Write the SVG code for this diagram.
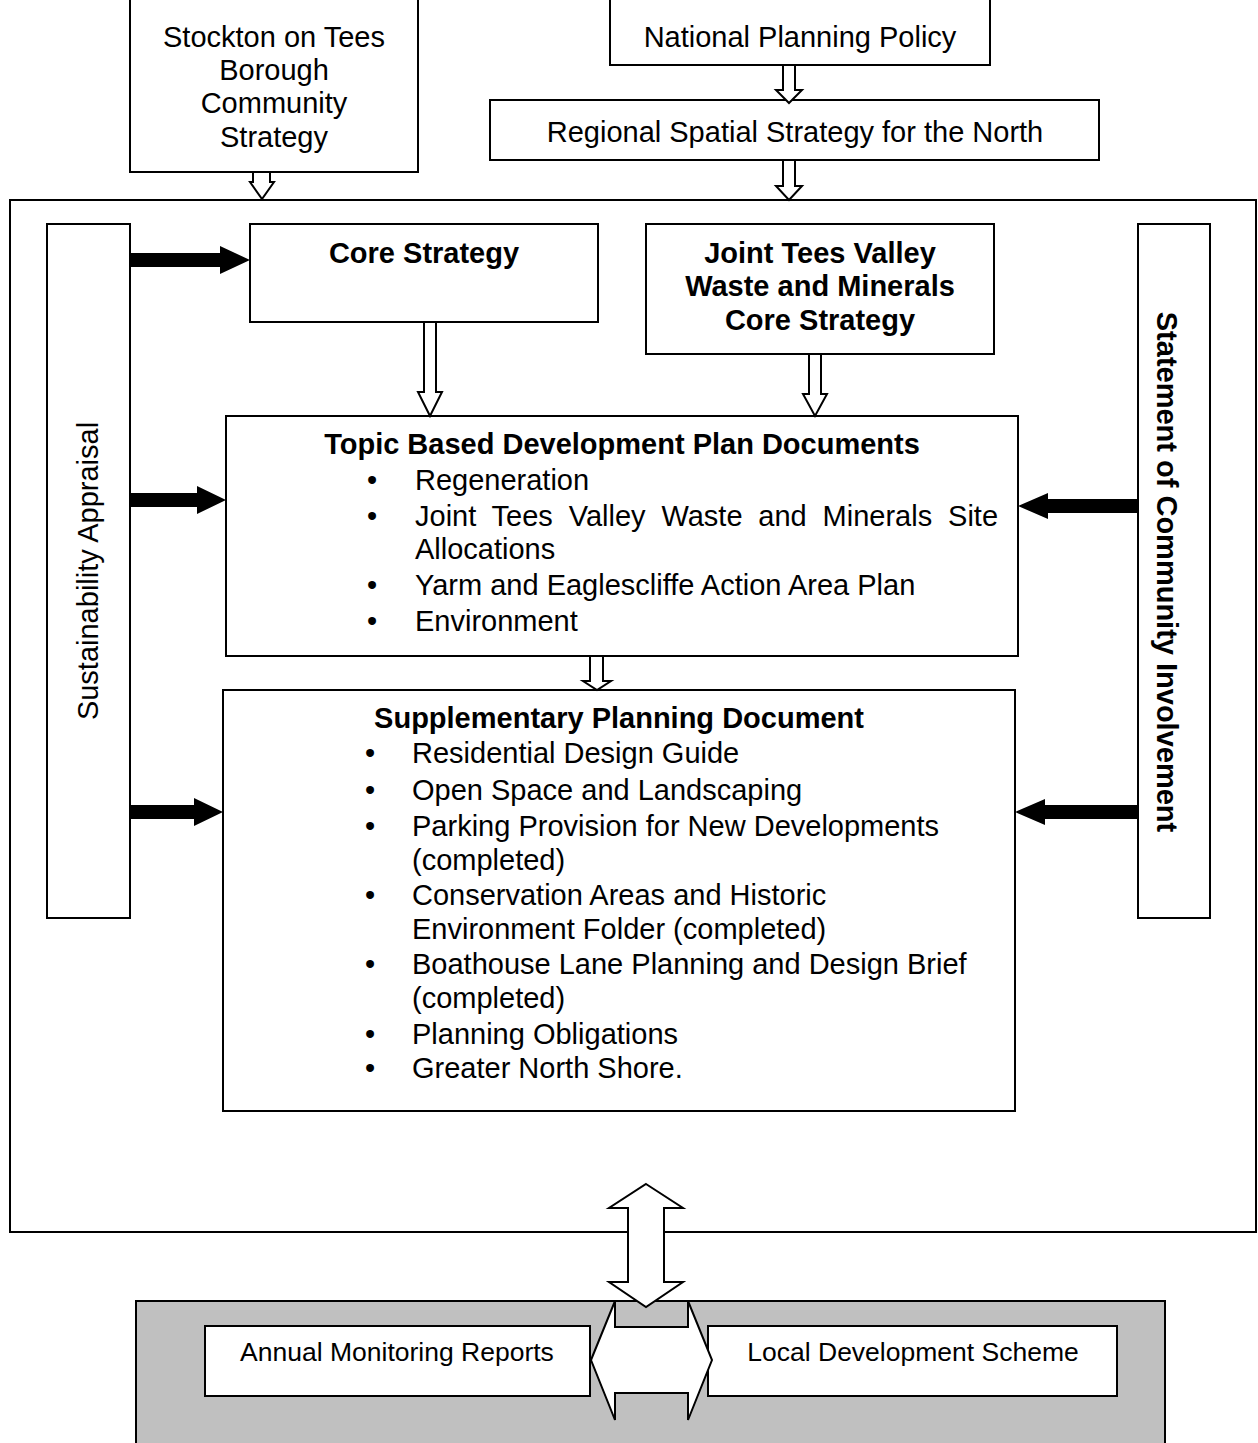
<svg xmlns="http://www.w3.org/2000/svg" width="1258" height="1443" viewBox="0 0 1258 1443">
<style>
.box{fill:#fff;stroke:#000;stroke-width:2}
.t{font-family:"Liberation Sans",Arial,sans-serif;font-size:29px;fill:#000}
.b{font-weight:bold}
.m{text-anchor:middle}
.s{font-size:26.5px}
.ha{fill:#fff;stroke:#000;stroke-width:2;stroke-linejoin:miter}
.ba{fill:#000;stroke:none}
</style>
<rect width="1258" height="1443" fill="#fff"/>
<g id="outer"><rect class="box" x="10" y="200" width="1246" height="1032"/></g>
<g id="stockton"><rect class="box" x="130" y="-2" width="288" height="174"/>
<text class="t m" x="274" y="47">Stockton on Tees</text>
<text class="t m" x="274" y="80">Borough</text>
<text class="t m" x="274" y="113">Community</text>
<text class="t m" x="274" y="147">Strategy</text></g>
<g id="national"><rect class="box" x="610" y="-2" width="380" height="67"/>
<text class="t m" x="800" y="47">National Planning Policy</text></g>
<g id="regional"><rect class="box" x="490" y="100" width="609" height="60"/>
<text class="t m" x="795" y="142">Regional Spatial Strategy for the North</text></g>
<g id="sustainability"><rect class="box" x="47" y="224" width="83" height="694"/>
<text class="t m" transform="translate(98,571) rotate(-90)">Sustainability Appraisal</text></g>
<g id="sci"><rect class="box" x="1138" y="224" width="72" height="694"/>
<text class="t b m" transform="translate(1157,572) rotate(90)">Statement of Community Involvement</text></g>
<g id="core"><rect class="box" x="250" y="224" width="348" height="98"/>
<text class="t b m" x="424" y="263">Core Strategy</text></g>
<g id="joint"><rect class="box" x="646" y="224" width="348" height="130"/>
<text class="t b m" x="820" y="263">Joint Tees Valley</text>
<text class="t b m" x="820" y="296">Waste and Minerals</text>
<text class="t b m" x="820" y="330">Core Strategy</text></g>
<g id="topic"><rect class="box" x="226" y="416" width="792" height="240"/>
<text class="t b m" x="622" y="454">Topic Based Development Plan Documents</text>
<text class="t m" x="372" y="490">•</text><text class="t" x="415" y="490">Regeneration</text>
<text class="t m" x="372" y="526">•</text><text class="t" x="415" y="526" word-spacing="7.8">Joint Tees Valley Waste and Minerals Site</text>
<text class="t" x="415" y="559">Allocations</text>
<text class="t m" x="372" y="595">•</text><text class="t" x="415" y="595">Yarm and Eaglescliffe Action Area Plan</text>
<text class="t m" x="372" y="631">•</text><text class="t" x="415" y="631">Environment</text></g>
<g id="spd"><rect class="box" x="223" y="690" width="792" height="421"/>
<text class="t b m" x="619" y="728">Supplementary Planning Document</text>
<text class="t m" x="370" y="763">•</text><text class="t" x="412" y="763">Residential Design Guide</text>
<text class="t m" x="370" y="800">•</text><text class="t" x="412" y="800">Open Space and Landscaping</text>
<text class="t m" x="370" y="836">•</text><text class="t" x="412" y="836">Parking Provision for New Developments</text>
<text class="t" x="412" y="870">(completed)</text>
<text class="t m" x="370" y="905">•</text><text class="t" x="412" y="905">Conservation Areas and Historic</text>
<text class="t" x="412" y="939">Environment Folder (completed)</text>
<text class="t m" x="370" y="974">•</text><text class="t" x="412" y="974">Boathouse Lane Planning and Design Brief</text>
<text class="t" x="412" y="1008">(completed)</text>
<text class="t m" x="370" y="1044">•</text><text class="t" x="412" y="1044">Planning Obligations</text>
<text class="t m" x="370" y="1078">•</text><text class="t" x="412" y="1078">Greater North Shore.</text></g>
<g id="monitoring-panel"><rect x="136" y="1301" width="1029" height="160" fill="#c0c0c0" stroke="#000" stroke-width="2"/></g>
<g id="amr"><rect class="box" x="205" y="1326" width="385" height="70"/>
<text class="t s m" x="397" y="1361">Annual Monitoring Reports</text></g>
<g id="lds"><rect class="box" x="708" y="1326" width="409" height="70"/>
<text class="t s m" x="913" y="1361">Local Development Scheme</text></g>
<g id="connectors">
<polygon class="ha" points="253,172 270,172 270,182 274,182 262,199 250,182 253,182"/>
<polygon class="ha" points="783,65 795,65 795,90 802,90 789,103 776,90 783,90"/>
<polygon class="ha" points="783,160 795,160 795,186 802,186 789,200 776,186 783,186"/>
<polygon class="ha" points="424,322 436,322 436,392 442,392 430,416 418,392 424,392"/>
<polygon class="ha" points="809,354 821,354 821,394 827,394 815,416 803,394 809,394"/>
<polygon class="ha" points="590,656 603,656 603,681 611,681 597,690 583,681 590,681"/>
<polygon class="ba" points="130,253 220,253 220,246 250,260 220,274 220,267 130,267"/>
<polygon class="ba" points="130,493 197,493 197,486 226,500 197,514 197,507 130,507"/>
<polygon class="ba" points="130,805 194,805 194,798 223,812 194,826 194,819 130,819"/>
<polygon class="ba" points="1138,499 1048,499 1048,493 1018,506 1048,519 1048,513 1138,513"/>
<polygon class="ba" points="1138,805 1045,805 1045,799 1015,812 1045,825 1045,819 1138,819"/>
<polygon class="ha" points="591,1360 615,1301 615,1327 688,1327 688,1301 712,1360 688,1420 688,1393 615,1393 615,1420"/>
<polygon class="ha" points="646,1184 683,1208 664,1208 664,1282 683,1282 646,1307 609,1282 628,1282 628,1208 609,1208"/>
</g>
</svg>
